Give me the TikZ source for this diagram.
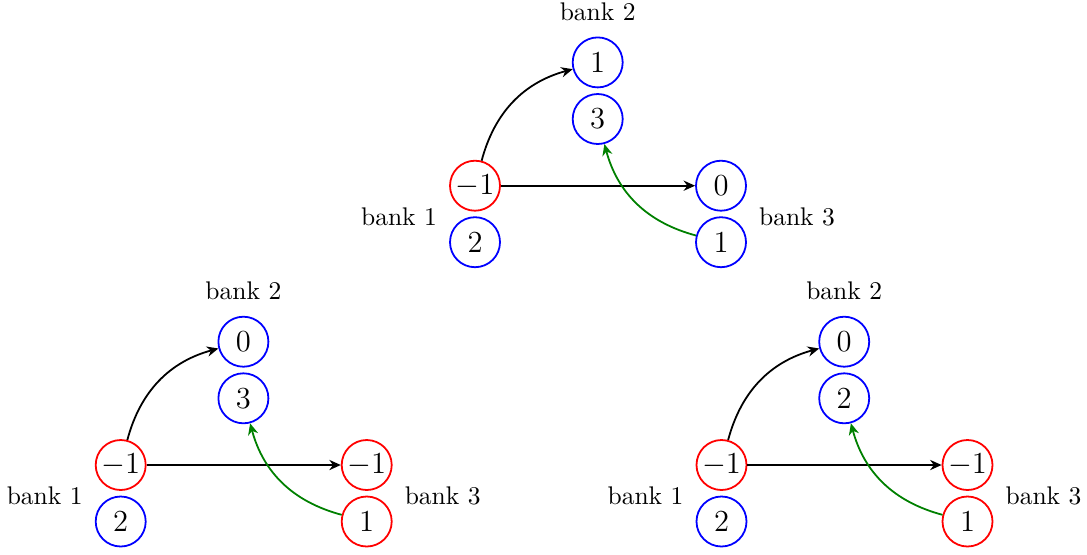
\documentclass[tikz,border=0pt]{standalone}
\usetikzlibrary{arrows.meta}
\begin{document}
\begin{tikzpicture}[x=0.392pt,y=-0.392pt,
  val/.style={circle,draw,line width=0.7pt,minimum size=19.6pt,inner sep=0pt,font=\large},
  posval/.style={val,draw=blue},
  negval/.style={val,draw=red},
  lbl/.style={inner sep=0pt},
  conn/.style={-{Stealth[length=4.5pt,width=4pt]},line width=0.7pt},
  back/.style={conn,draw=green!50!black}]
\useasboundingbox (0,0) rectangle (1087,554);
% top group
\begin{scope}[shift={(475,185.7)}]
  \node[negval] (t1a) at (0,0) {$-1$};
  \node[posval] (t1b) at (0,56.5) {$2$};
  \node[posval] (t2a) at (122.7,-123.3) {$1$};
  \node[posval] (t2b) at (122.7,-66.7) {$3$};
  \node[posval] (t3a) at (246,0) {$0$};
  \node[posval] (t3b) at (246,56.5) {$1$};
  \node[lbl] (t1l) at (-76,31) {bank 1};
  \node[lbl] (t2l) at (122.7,-174) {bank 2};
  \node[lbl] (t3l) at (322,31) {bank 3};
  \draw[conn] (t1a) to[bend left] (t2a);
  \draw[conn] (t1a) -- (t3a);
  \draw[back] (t3b) to[bend left] (t2b);
\end{scope}
% bottom-left group
\begin{scope}[shift={(120.7,465)}]
  \node[negval] (l1a) at (0,0) {$-1$};
  \node[posval] (l1b) at (0,56.5) {$2$};
  \node[posval] (l2a) at (122.7,-123.3) {$0$};
  \node[posval] (l2b) at (122.7,-66.7) {$3$};
  \node[negval] (l3a) at (246,0) {$-1$};
  \node[negval] (l3b) at (246,56.5) {$1$};
  \node[lbl] (l1l) at (-76,31) {bank 1};
  \node[lbl] (l2l) at (122.7,-174) {bank 2};
  \node[lbl] (l3l) at (322,31) {bank 3};
  \draw[conn] (l1a) to[bend left] (l2a);
  \draw[conn] (l1a) -- (l3a);
  \draw[back] (l3b) to[bend left] (l2b);
\end{scope}
% bottom-right group
\begin{scope}[shift={(721.5,465)}]
  \node[negval] (r1a) at (0,0) {$-1$};
  \node[posval] (r1b) at (0,56.5) {$2$};
  \node[posval] (r2a) at (122.7,-123.3) {$0$};
  \node[posval] (r2b) at (122.7,-66.7) {$2$};
  \node[negval] (r3a) at (246,0) {$-1$};
  \node[negval] (r3b) at (246,56.5) {$1$};
  \node[lbl] (r1l) at (-76,31) {bank 1};
  \node[lbl] (r2l) at (122.7,-174) {bank 2};
  \node[lbl] (r3l) at (322,31) {bank 3};
  \draw[conn] (r1a) to[bend left] (r2a);
  \draw[conn] (r1a) -- (r3a);
  \draw[back] (r3b) to[bend left] (r2b);
\end{scope}
\end{tikzpicture}
\end{document}
